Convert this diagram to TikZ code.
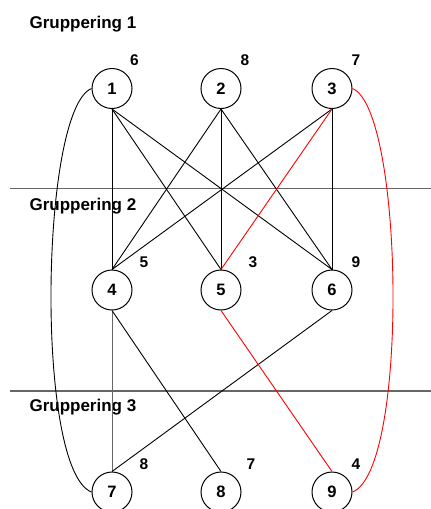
\documentclass[tikz,border=0pt]{standalone}
\usepackage{fontspec}
\setmainfont{Liberation Sans}
\begin{document}
\begin{tikzpicture}[x=1pt,y=-1pt,
  vtx/.style={circle,draw,line width=1pt,minimum size=40pt,inner sep=0pt,font=\fontsize{16.5}{16.5}\selectfont\bfseries},
  wt/.style={font=\fontsize{15.5}{15.5}\selectfont\bfseries},
  grp/.style={anchor=west,font=\fontsize{17}{17}\selectfont\bfseries},
  sep/.style={draw=black!60,line width=1.3pt},
  edge/.style={line width=0.9pt},
  redge/.style={line width=0.9pt,red}]
\useasboundingbox (0,0) rectangle (431,509);
% group labels
\node[grp] (g1) at (26,24) {Gruppering 1};
\node[grp] (g2) at (26,206) {Gruppering 2};
\node[grp] (g3) at (26,407) {Gruppering 3};
% separators
\coordinate (s1a) at (10,188.5); \coordinate (s1b) at (431,188.5);
\coordinate (s2a) at (10,391); \coordinate (s2b) at (431,391);
\draw[sep] (s1a) -- (s1b);
\draw[sep] (s2a) -- (s2b);
% vertices
\node[vtx] (n1) at (112,88.5) {1};
\node[vtx] (n2) at (221,88.5) {2};
\node[vtx] (n3) at (332,88.5) {3};
\node[vtx] (n4) at (112,290) {4};
\node[vtx] (n5) at (221,290) {5};
\node[vtx] (n6) at (332,290) {6};
\node[vtx] (n7) at (112,492) {7};
\node[vtx] (n8) at (221,492) {8};
\node[vtx] (n9) at (332,492) {9};
% weights
\node[wt] (w1) at (134.5,60) {6};
\node[wt] (w2) at (245,60) {8};
\node[wt] (w3) at (356,60) {7};
\node[wt] (w4) at (144,262) {5};
\node[wt] (w5) at (253,262) {3};
\node[wt] (w6) at (356,262) {9};
\node[wt] (w7) at (144,464) {8};
\node[wt] (w8) at (251,464) {7};
\node[wt] (w9) at (356,464) {4};
% edges level 1 -> 2
\draw[edge] (n1.south) -- (n4.north);
\draw[edge] (n1.south) -- (n5.north);
\draw[edge] (n1.south) -- (n6.north);
\draw[edge] (n2.south) -- (n4.north);
\draw[edge] (n2.south) -- (n5.north);
\draw[edge] (n2.south) -- (n6.north);
\draw[edge] (n3.south) -- (n4.north);
\draw[redge] (n3.south) -- (n5.north);
\draw[edge] (n3.south) -- (n6.north);
% edges level 2 -> 3
\draw[line width=0.9pt,black!60] (n4.south) -- (n7.north);
\draw[edge] (n4.south) -- (n8.north);
\draw[edge] (n6.south) -- (n7.north);
\draw[redge] (n5.south) -- (n9.north);
% long curves
\draw[edge] (n1.west) .. controls (40,110) and (35,470) .. (n7.west);
\draw[redge] (n3.east) .. controls (404,110) and (409,470) .. (n9.east);
\end{tikzpicture}
\end{document}
